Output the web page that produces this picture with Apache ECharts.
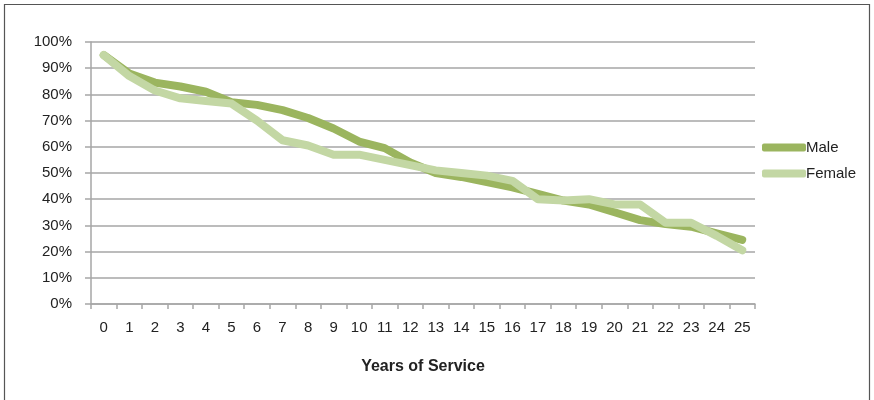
<!DOCTYPE html>
<html>
<head>
<meta charset="utf-8">
<script src="https://cdn.jsdelivr.net/npm/echarts@6/dist/echarts.min.js"></script>
<style>
html,body{margin:0;padding:0;background:#fff;}
#c{width:874px;height:400px;}
</style>
</head>
<body>
<div id="c"></div>
<script>
var years = ['0','1','2','3','4','5','6','7','8','9','10','11','12','13','14','15','16','17','18','19','20','21','22','23','24','25'];
var male = [95, 88, 84.5, 83, 81, 77, 76, 74, 71, 67, 62, 59.5, 54, 50, 48.5, 46.5, 44.5, 42, 39.5, 38, 35, 32, 30.5, 29.5, 27, 24.5];
var female = [95, 87, 81.5, 78.5, 77.5, 76.5, 70, 62.5, 60.5, 57, 57, 55, 53, 51, 50, 49, 47, 40, 39.5, 40, 38, 38, 31, 31, 26, 20.5];
var yTicks = [0, 10, 20, 30, 40, 50, 60, 70, 80, 90, 100];

var font = "'Liberation Sans',Arial,sans-serif";
var chart = echarts.init(document.getElementById('c'), null, {renderer: 'canvas'});
chart.setOption({
  animation: false,
  backgroundColor: '#ffffff',
  graphic: [{
    type: 'rect', shape: {x: 4.5, y: 4.5, width: 865, height: 420},
    style: {fill: 'none', stroke: '#555', lineWidth: 1.2}, silent: true
  }],
  grid: {left: 91, right: 119, top: 42, bottom: 96},
  legend: {
    orient: 'vertical', left: 757, top: 135, itemGap: 11,
    itemWidth: 44, itemHeight: 8, icon: 'roundRect',
    textStyle: {fontFamily: font, fontSize: 15, color: '#222', padding: [0, 0, 0, -5]},
    data: ['Male', 'Female']
  },
  xAxis: {
    type: 'category', data: years, boundaryGap: true,
    name: 'Years of Service', nameLocation: 'middle', nameGap: 55,
    nameTextStyle: {fontFamily: font, fontSize: 16, fontWeight: 'bold', color: '#222'},
    axisLine: {lineStyle: {color: '#a6a6a6', width: 1.5}},
    axisTick: {show: true, length: 5, alignWithLabel: false, lineStyle: {color: '#a6a6a6', width: 1.5}},
    axisLabel: {fontFamily: font, fontSize: 15, color: '#222', margin: 16, interval: 0}
  },
  yAxis: {
    type: 'value', min: 0, max: 100, interval: 10,
    axisLine: {show: true, lineStyle: {color: '#a6a6a6', width: 1.5}},
    axisTick: {show: true, length: 6, lineStyle: {color: '#a6a6a6', width: 1.5}},
    axisLabel: {fontFamily: font, fontSize: 15, color: '#222', margin: 19,
      formatter: function (v) { return yTicks.indexOf(v) >= 0 ? v + '%' : ''; }},
    splitLine: {show: true, lineStyle: {color: '#a6a6a6', width: 1.5}}
  },
  series: [
    {name: 'Male', type: 'line', data: male, showSymbol: false, symbol: 'none',
      color: '#9bb55f',
      lineStyle: {width: 8, color: '#9bb55f', cap: 'round', join: 'round'}},
    {name: 'Female', type: 'line', data: female, showSymbol: false, symbol: 'none',
      color: '#c3d7a4',
      lineStyle: {width: 8, color: '#c3d7a4', cap: 'round', join: 'round'}}
  ]
});
</script>
</body>
</html>
